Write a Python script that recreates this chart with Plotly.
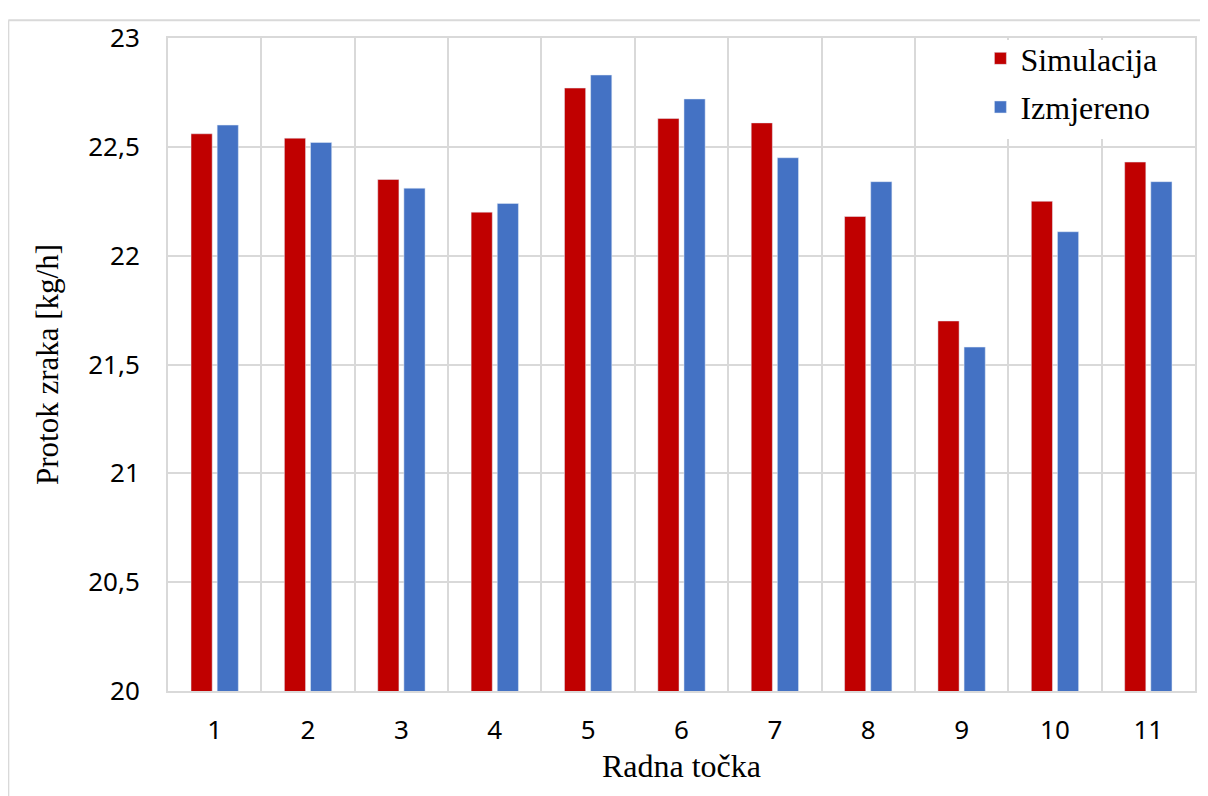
import plotly.graph_objects as go

points = [1, 2, 3, 4, 5, 6, 7, 8, 9, 10, 11]
simulacija = [22.56, 22.54, 22.35, 22.20, 22.77, 22.63, 22.61, 22.18, 21.70, 22.25, 22.43]
izmjereno = [22.60, 22.52, 22.31, 22.24, 22.83, 22.72, 22.45, 22.34, 21.58, 22.11, 22.34]
y_ticks = [20, 20.5, 21, 21.5, 22, 22.5, 23]
y_ticktext = ["20", "20,5", "21", "21,5", "22", "22,5", "23"]

RED = "#C00000"
BLUE = "#4472C4"
GRID = "#D9D9D9"
SERIF = "Liberation Serif, Times New Roman, serif"
SANS = "Noto Sans, Open Sans, sans-serif"

fig = go.Figure()
fig.add_trace(go.Bar(x=points, y=simulacija, name="Simulacija", marker_color=RED,
                     legendgroup="a"))
fig.add_trace(go.Bar(x=points, y=izmjereno, name="Izmjereno", marker_color=BLUE,
                     legendgroup="b"))

# page has an 8px body margin; figure placed at (8, 8)
W, H = 1200, 788
L, T = 160, 23
PW, PH = 1029, 660
R, B = W - L - PW, H - T - PH
PL, PT = 168, 31  # plot area on page


def px(x):
    return (x - PL) / PW


def py(y):
    return (PT + PH - y) / PH


fig.update_layout(
    width=W, height=H,
    margin=dict(l=L, r=R, t=T, b=B, pad=0),
    paper_bgcolor="white", plot_bgcolor="white",
    barmode="group", bargap=0.44, bargroupgap=0.19,
    separators=",.",
    showlegend=True,
    legend=dict(x=px(982), xanchor="left", y=py(24), yanchor="top",
                bgcolor="rgba(0,0,0,0)", font=dict(family=SERIF, size=32, color="black"),
                traceorder="grouped", tracegroupgap=4, itemwidth=30),
    xaxis=dict(range=[0.5, 11.5], tickvals=points, ticktext=[str(p) for p in points],
               showgrid=False, zeroline=False, ticks="",
               tickfont=dict(family=SANS, size=26, color="black"),
               ticklabelstandoff=15,
               minor=dict(tickvals=[p + 0.5 for p in [0] + points], showgrid=True,
                          gridcolor=GRID, gridwidth=2, ticks=""),
               showline=True, linecolor=GRID, linewidth=2, mirror=True,
               title=dict(text="Radna točka", font=dict(family=SERIF, size=32, color="black"),
                          standoff=8)),
    yaxis=dict(range=[20, 23], tickvals=y_ticks, ticktext=y_ticktext,
               showgrid=True, gridcolor=GRID, gridwidth=2, zeroline=False, ticks="",
               tickfont=dict(family=SANS, size=26, color="black"),
               ticklabelstandoff=21,
               showline=True, linecolor=GRID, linewidth=2, mirror=True,
               title=dict(text="Protok zraka [kg/h]", font=dict(family=SERIF, size=31, color="black"),
                          standoff=20)),
    shapes=[
        dict(type="rect", xref="paper", yref="paper", x0=px(930), x1=px(1195), y0=py(133), y1=py(33),
             fillcolor="white", line=dict(width=0), layer="above"),
        dict(type="line", xref="paper", yref="paper", x0=px(8), x1=px(8), y0=py(800), y1=py(13),
             line=dict(color=GRID, width=2)),
        dict(type="line", xref="paper", yref="paper", x0=px(8), x1=px(1210), y0=py(13), y1=py(13),
             line=dict(color=GRID, width=2)),
    ],
)

fig.write_html("out.html")
